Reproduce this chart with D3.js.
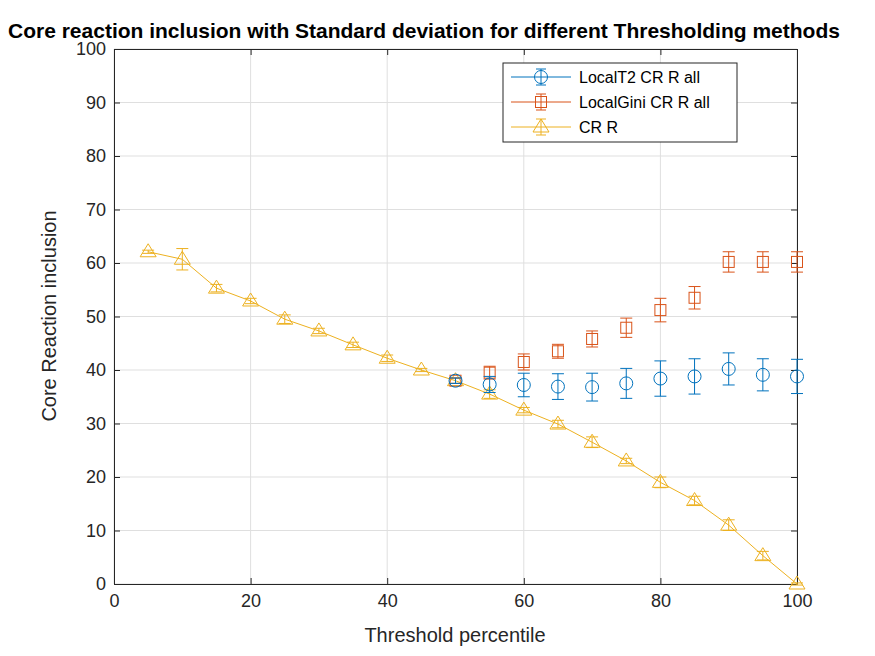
<!doctype html>
<html>
<head>
<script src="https://cdn.jsdelivr.net/npm/d3@7"></script>
<style>
body { margin: 0; background: #fff; }
text { font-family: "Liberation Sans", Arial, sans-serif; }
</style>
</head>
<body>
<svg id="chart" width="875" height="656"></svg>
<script>
// ---- data ----
var xT2 = [50, 55, 60, 65, 70, 75, 80, 85, 90, 95, 100]
var yT2 = [38, 37.3, 37.2, 36.9, 36.8, 37.5, 38.4, 38.8, 40.2, 39.1, 38.8]
var eT2 = [0.5, 1.5, 2.2, 2.4, 2.6, 2.8, 3.3, 3.3, 3.0, 3.0, 3.2]

var xGini = [50, 55, 60, 65, 70, 75, 80, 85, 90, 95, 100]
var yGini = [38, 39.5, 41.5, 43.5, 45.8, 47.9, 51.2, 53.5, 60.2, 60.2, 60.2]
var eGini = [0.5, 1.2, 1.5, 1.3, 1.5, 1.8, 2.2, 2.1, 1.9, 1.9, 1.9]

var xCR = [5, 10, 15, 20, 25, 30, 35, 40, 45, 50, 55, 60, 65, 70, 75, 80, 85, 90, 95, 100]
var yCR = [62.1, 60.7, 55.3, 52.9, 49.5, 47.3, 44.7, 42.2, 40, 38, 35.5, 32.5, 29.9, 26.5, 23, 19, 15.6, 11, 5.3, 0]
var eCR = [0.3, 2, 0.7, 0.5, 0.8, 0.5, 0.5, 0.6, 0.3, 0.5, 0.8, 0.5, 0.7, 1, 0.5, 1, 0.8, 1, 0.8, 0.2]

var xTicks = [0, 20, 40, 60, 80, 100]
var yTicks = [0, 10, 20, 30, 40, 50, 60, 70, 80, 90, 100]

// ---- layout ----
var svg = d3.select('#chart')
var L = 114, R = 797, T = 49, B = 584
var x = d3.scaleLinear().domain([0, 100]).range([L, R])
var y = d3.scaleLinear().domain([0, 100]).range([B, T])

var grid = svg.append('g')
xTicks.forEach(function(t) {
	grid.append('line').attr('x1', x(t)).attr('x2', x(t)).attr('y1', T).attr('y2', B)
		.attr('stroke', '#dfdfdf')
})
yTicks.forEach(function(t) {
	grid.append('line').attr('x1', L).attr('x2', R).attr('y1', y(t)).attr('y2', y(t))
		.attr('stroke', '#dfdfdf')
})

function axStyle(g) {
	g.selectAll('path').attr('stroke', '#262626')
	g.selectAll('line').attr('stroke', '#262626')
	g.selectAll('text').attr('fill', '#262626').style('font-size', '18px')
}
svg.append('g').attr('transform', 'translate(0,' + B + ')')
	.call(d3.axisBottom(x).tickValues(xTicks).tickSizeInner(-6).tickSizeOuter(0).tickPadding(10))
	.call(axStyle)
svg.append('g').attr('transform', 'translate(0,' + T + ')')
	.call(d3.axisTop(x).tickValues(xTicks).tickSizeInner(-6).tickSizeOuter(0).tickFormat(''))
	.call(axStyle)
svg.append('g').attr('transform', 'translate(' + L + ',0)')
	.call(d3.axisLeft(y).tickValues(yTicks).tickSizeInner(-6).tickSizeOuter(0).tickPadding(8))
	.call(axStyle)
svg.append('g').attr('transform', 'translate(' + R + ',0)')
	.call(d3.axisRight(y).tickValues(yTicks).tickSizeInner(-6).tickSizeOuter(0).tickFormat(''))
	.call(axStyle)

var plot = svg.append('g')

function errbars(xs, ys, es, color) {
	xs.forEach(function(v, i) {
		var cx = x(v), y1 = y(ys[i] - es[i]), y2 = y(ys[i] + es[i])
		plot.append('line').attr('x1', cx).attr('x2', cx).attr('y1', y1).attr('y2', y2).attr('stroke', color)
		plot.append('line').attr('x1', cx - 6).attr('x2', cx + 6).attr('y1', y1).attr('y2', y1).attr('stroke', color)
		plot.append('line').attr('x1', cx - 6).attr('x2', cx + 6).attr('y1', y2).attr('y2', y2).attr('stroke', color)
	})
}
function marker(g, kind, cx, cy, color) {
	if (kind == 'o') g.append('circle').attr('cx', cx).attr('cy', cy).attr('r', 6.5)
		.attr('fill', 'none').attr('stroke', color)
	if (kind == 's') g.append('rect').attr('x', cx - 5.5).attr('y', cy - 5.5).attr('width', 11).attr('height', 11)
		.attr('fill', 'none').attr('stroke', color)
	if (kind == '^') g.append('path').attr('d', 'M' + cx + ',' + (cy - 8) + 'L' + (cx + 8) + ',' + (cy + 5) + 'L' + (cx - 8) + ',' + (cy + 5) + 'Z')
		.attr('fill', 'none').attr('stroke', color)
}

var cT2 = '#0072BD', cGini = '#D95319', cCR = '#EDB120'

errbars(xCR, yCR, eCR, cCR)
plot.append('path').datum(xCR.map(function(v, i) { return [v, yCR[i]] }))
	.attr('d', d3.line().x(function(d) { return x(d[0]) }).y(function(d) { return y(d[1]) }))
	.attr('fill', 'none').attr('stroke', cCR)
xCR.forEach(function(v, i) { marker(plot, '^', x(v), y(yCR[i]), cCR) })

errbars(xGini, yGini, eGini, cGini)
xGini.forEach(function(v, i) { marker(plot, 's', x(v), y(yGini[i]), cGini) })

errbars(xT2, yT2, eT2, cT2)
xT2.forEach(function(v, i) { marker(plot, 'o', x(v), y(yT2[i]), cT2) })

// ---- legend ----
var lg = svg.append('g')
lg.append('rect').attr('x', 503).attr('y', 63).attr('width', 234).attr('height', 79)
	.attr('fill', '#fff').attr('stroke', '#262626')
var items = [['LocalT2 CR R all', cT2, 'o'], ['LocalGini CR R all', cGini, 's'], ['CR R', cCR, '^']]
items.forEach(function(it, i) {
	var yy = 77 + i * 25
	lg.append('line').attr('x1', 511).attr('x2', 571).attr('y1', yy).attr('y2', yy).attr('stroke', it[1])
	lg.append('line').attr('x1', 541).attr('x2', 541).attr('y1', yy - 8).attr('y2', yy + 8).attr('stroke', it[1])
	lg.append('line').attr('x1', 536).attr('x2', 546).attr('y1', yy - 8).attr('y2', yy - 8).attr('stroke', it[1])
	lg.append('line').attr('x1', 536).attr('x2', 546).attr('y1', yy + 8).attr('y2', yy + 8).attr('stroke', it[1])
	marker(lg, it[2], 541, yy, it[1])
	lg.append('text').attr('x', 579).attr('y', yy + 6).text(it[0]).style('font-size', '16px').attr('fill', '#000')
})

// ---- labels ----
svg.append('text').attr('x', 455).attr('y', 642).attr('text-anchor', 'middle')
	.style('font-size', '20px').attr('fill', '#262626').text('Threshold percentile')
svg.append('text').attr('transform', 'translate(56,316) rotate(-90)').attr('text-anchor', 'middle')
	.style('font-size', '20px').attr('fill', '#262626').text('Core Reaction inclusion')
svg.append('text').attr('x', 8).attr('y', 38)
	.style('font-size', '21px').style('font-weight', 'bold').attr('fill', '#000')
	.text('Core reaction inclusion with Standard deviation for different Thresholding methods')
</script>
</body>
</html>
